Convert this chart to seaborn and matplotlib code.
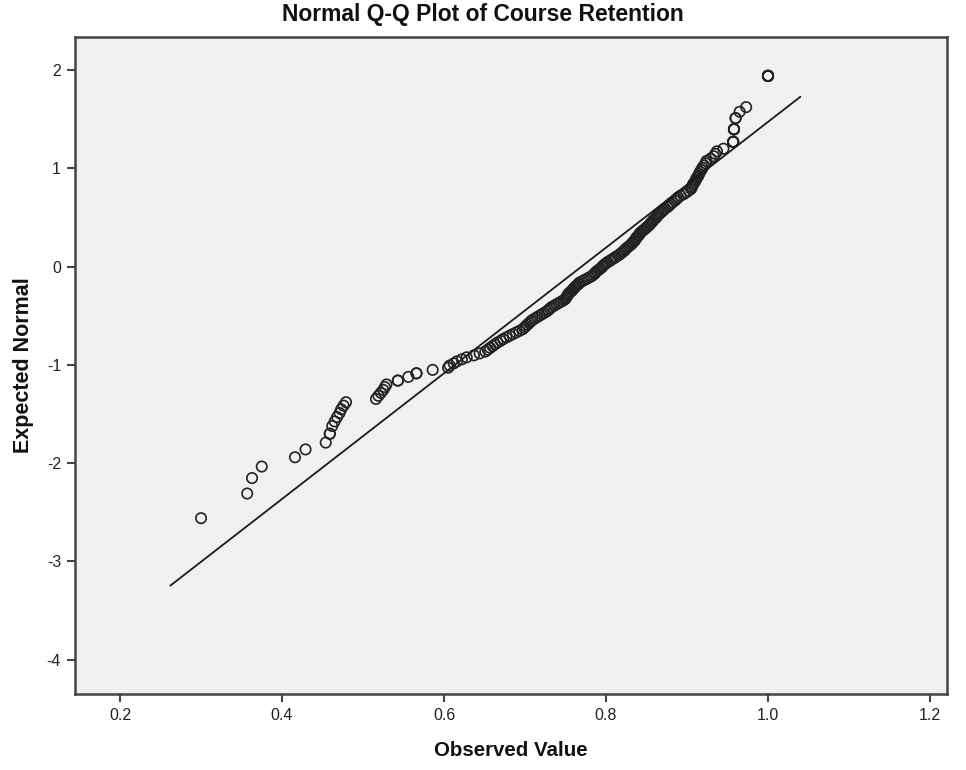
import numpy as np
import pandas as pd
import seaborn as sns
import matplotlib
matplotlib.use("Agg")
import matplotlib.pyplot as plt
from statistics import NormalDist

# ---- data (observed course retention values, sorted) ----
observed = [
    0.300, 0.357, 0.363, 0.375, 0.416, 0.429, 0.454, 0.459, 0.459, 0.462,
    0.465, 0.468, 0.471, 0.473, 0.476, 0.479, 0.516, 0.519, 0.522, 0.525,
    0.527, 0.529, 0.543, 0.543, 0.556, 0.566, 0.566, 0.586, 0.605, 0.607,
    0.612, 0.616, 0.622, 0.628, 0.637, 0.644, 0.651, 0.654, 0.657, 0.660,
    0.663, 0.666, 0.670, 0.673, 0.677, 0.681, 0.685, 0.689, 0.693, 0.697,
    0.699, 0.701, 0.703, 0.705, 0.707, 0.709, 0.712, 0.715, 0.718, 0.721,
    0.724, 0.727, 0.729, 0.731, 0.733, 0.736, 0.739, 0.742, 0.745, 0.748,
    0.750, 0.751, 0.752, 0.753, 0.754, 0.756, 0.758, 0.759, 0.761, 0.762,
    0.764, 0.766, 0.767, 0.770, 0.773, 0.776, 0.779, 0.782, 0.784, 0.786,
    0.787, 0.789, 0.791, 0.793, 0.795, 0.796, 0.798, 0.800, 0.802, 0.805,
    0.807, 0.810, 0.812, 0.815, 0.817, 0.819, 0.821, 0.823, 0.824, 0.826,
    0.828, 0.830, 0.832, 0.833, 0.835, 0.836, 0.837, 0.838, 0.840, 0.841,
    0.842, 0.844, 0.846, 0.848, 0.850, 0.852, 0.854, 0.855, 0.857, 0.858,
    0.860, 0.862, 0.863, 0.865, 0.867, 0.869, 0.871, 0.873, 0.876, 0.878,
    0.880, 0.882, 0.885, 0.887, 0.889, 0.892, 0.896, 0.899, 0.902, 0.905,
    0.906, 0.907, 0.908, 0.910, 0.911, 0.912, 0.914, 0.915, 0.916, 0.918,
    0.919, 0.921, 0.923, 0.924, 0.929, 0.933, 0.935, 0.937, 0.945, 0.957,
    0.957, 0.957, 0.957, 0.958, 0.958, 0.958, 0.958, 0.960, 0.960, 0.965,
    0.973, 1.000, 1.000, 1.000, 1.000, 1.000, 1.000, 1.000, 1.000, 1.000,
]

# reference normal line (endpoints)
line_x = [0.262, 1.040]
line_y = [-3.247, 1.728]

x_ticks = [0.2, 0.4, 0.6, 0.8, 1.0, 1.2]
x_tick_labels = ["0.2", "0.4", "0.6", "0.8", "1.0", "1.2"]
y_ticks = [-4, -3, -2, -1, 0, 1, 2]
y_tick_labels = ["-4", "-3", "-2", "-1", "0", "1", "2"]

title = "Normal Q-Q Plot of Course Retention"
x_label = "Observed Value"
y_label = "Expected Normal"

# ---- expected normal values (rank based, Van der Waerden, mean ties) ----
df = pd.DataFrame({"Observed": observed})
n = len(df)
ranks = df["Observed"].rank(method="average")
nd = NormalDist()
df["Expected"] = [nd.inv_cdf(r / (n + 1)) for r in ranks]
line_df = pd.DataFrame({"x": line_x, "y": line_y})

# ---- plot ----
sns.set_theme(style="white")
plt.rcParams["font.family"] = ["Liberation Sans", "DejaVu Sans"]

fig = plt.figure(figsize=(9.66, 7.70), dpi=100)
ax = fig.add_axes([75 / 966, 1 - 694 / 770, (947 - 75) / 966, (694 - 37) / 770])
ax.set_facecolor("#F0F0F0")

sns.lineplot(data=line_df, x="x", y="y", ax=ax, color="#1a1a1a", linewidth=1.3)
sns.scatterplot(data=df, x="Observed", y="Expected", ax=ax,
                facecolor="none", edgecolor="#222222", linewidth=1.2, s=56,
                marker="o")

ax.set_xlim(0.1444, 1.221)
ax.set_ylim(-4.349, 2.336)
ax.set_xticks(x_ticks)
ax.set_xticklabels(x_tick_labels)
ax.set_yticks(y_ticks)
ax.set_yticklabels(y_tick_labels)

for sp in ax.spines.values():
    sp.set_color("#444444")
    sp.set_linewidth(1.8)
ax.tick_params(axis="both", which="both", direction="out", length=6, width=1.5,
               color="#444444", labelsize=11.5, labelcolor="#222222",
               bottom=True, left=True, top=False, right=False, pad=4)

ax.set_xlabel(x_label, fontsize=14.8, fontweight="bold", color="#111111", labelpad=13)
ax.set_ylabel(y_label, fontsize=15.5, fontweight="bold", color="#111111", labelpad=9)
fig.suptitle(title, x=0.5, y=1 - 15 / 770, va="center", fontsize=16.5,
             fontweight="bold", color="#111111")

fig.savefig("out.png", dpi=100, facecolor="white")
